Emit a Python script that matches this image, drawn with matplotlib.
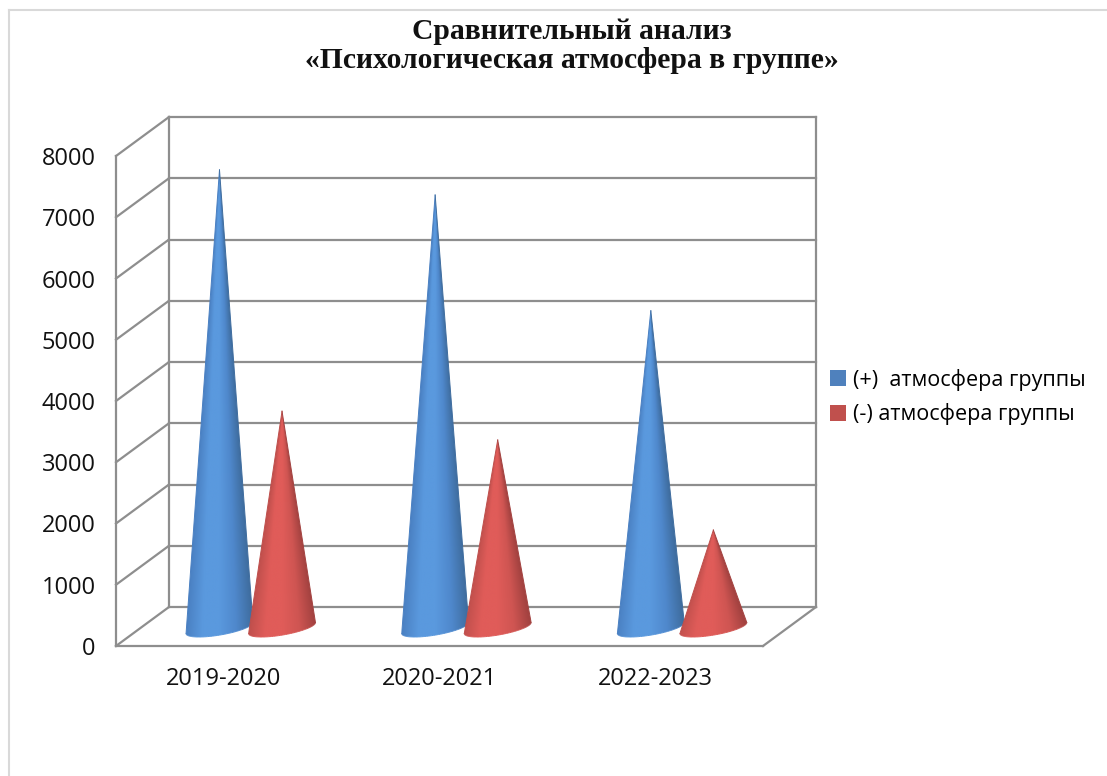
import numpy as np
import matplotlib
matplotlib.use('Agg')
import matplotlib.pyplot as plt
from matplotlib.collections import LineCollection
from matplotlib.colors import LinearSegmentedColormap
from matplotlib.lines import Line2D
from matplotlib.patches import Patch, Polygon

# Данные с графика
periods = ['2019-2020', '2020-2021', '2022-2023']
positive = [7480, 7070, 5180]
negative = [3540, 3070, 1600]
series_names = ['(+)  атмосфера группы', '(-) атмосфера группы']
title = 'Сравнительный анализ\n«Психологическая атмосфера в группе»'

GRID = '#8e8e8e'
depth_x = 53 / 215.7   # глубина 3D-коробки в единицах осей
depth_y = 39 / 0.06125

blue = LinearSegmentedColormap.from_list('b', ['#4a80c2', '#5a99de', '#5a99de', '#4f88cc', '#3f6d9f'])
red = LinearSegmentedColormap.from_list('r', ['#bf4f4c', '#e05c59', '#e05c59', '#cf5552', '#a34240'])


def cone(ax, x, value, cmap, zorder):
    # конус стоит на середине глубины коробки
    cx = x + depth_x / 2
    base = depth_y * 0.46
    a = 0.155
    top = base + value
    t = np.linspace(np.pi, 2 * np.pi, 61)
    px = cx + a * np.cos(t)
    py = base + 115 * np.sin(t) + 90 * np.cos(t)

    # заливка: оттенок зависит от положения внутри конуса на данной высоте
    xs = np.linspace(cx - a, cx + a, 240)
    ys = np.linspace(base - 200, top, 500)
    gx, gy = np.meshgrid(xs, ys)
    half = a * np.clip((top - gy) / value, 1e-3, None)
    u = np.clip((gx - cx) / half * 0.5 + 0.5, 0, 1)
    im = ax.imshow(cmap(u), origin='lower', extent=[xs[0], xs[-1], ys[0], ys[-1]], aspect='auto',
                   interpolation='bilinear', zorder=zorder)
    outline = Polygon(np.column_stack([np.r_[cx, px], np.r_[top, py]]), closed=True,
                      facecolor='none', edgecolor='none', transform=ax.transData)
    ax.add_patch(outline)
    im.set_clip_path(outline)

    # тонкий контур сглаживает край обрезки
    ax.plot([cx, px[0]], [top, py[0]], color=cmap(0.0), lw=0.7, zorder=zorder + 0.1, clip_on=False)
    ax.plot([cx, px[-1]], [top, py[-1]], color=cmap(1.0), lw=0.7, zorder=zorder + 0.1, clip_on=False)
    segs = [[(px[i], py[i]), (px[i + 1], py[i + 1])] for i in range(60)]
    ax.add_collection(LineCollection(segs, colors=cmap(np.linspace(0, 1, 60)), linewidths=0.7,
                                     zorder=zorder + 0.1, clip_on=False))


fig = plt.figure(figsize=(11.07, 7.76), dpi=100)
fig.add_artist(Line2D([9 / 1107, 9 / 1107], [0, 1 - 10 / 776], color='#d9d9d9', lw=1.5, transform=fig.transFigure))
fig.add_artist(Line2D([9 / 1107, 1], [1 - 10 / 776, 1 - 10 / 776], color='#d9d9d9', lw=1.5, transform=fig.transFigure))
ax = fig.add_axes([116 / 1107, 130 / 776, 647 / 1107, 490 / 776])

xmin, xmax = -0.5, 2.5
levels = np.arange(0, 8001, 1000)

# задняя стенка и левая стенка
for v in levels:
    ax.plot([xmin + depth_x, xmax + depth_x], [v + depth_y, v + depth_y], color=GRID, lw=1.6, clip_on=False, zorder=1)
    ax.plot([xmin, xmin + depth_x], [v, v + depth_y], color=GRID, lw=1.6, clip_on=False, zorder=1)
ax.plot([xmin, xmin], [0, 8000], color=GRID, lw=1.6, clip_on=False, zorder=1)
ax.plot([xmin + depth_x, xmin + depth_x], [depth_y, 8000 + depth_y], color=GRID, lw=1.6, clip_on=False, zorder=1)
ax.plot([xmax + depth_x, xmax + depth_x], [depth_y, 8000 + depth_y], color=GRID, lw=1.6, clip_on=False, zorder=1)
# пол
ax.plot([xmin, xmax], [0, 0], color=GRID, lw=1.6, clip_on=False, zorder=1)
ax.plot([xmax, xmax + depth_x], [0, depth_y], color=GRID, lw=1.6, clip_on=False, zorder=1)

for i in range(len(periods)):
    cone(ax, i - 0.143, positive[i], blue, 3)
    cone(ax, i + 0.147, negative[i], red, 4)

ax.set_xlim(xmin, xmax)
ax.set_ylim(0, 8000)
ax.set_xticks(range(len(periods)), periods)
ax.set_yticks(levels)
ax.tick_params(length=0, labelsize=17, colors='#111111')
ax.tick_params(axis='x', pad=15)
ax.tick_params(axis='y', pad=14.5)
for lab in ax.get_xticklabels() + ax.get_yticklabels():
    lab.set_family('Open Sans')
ax.patch.set_visible(False)
for s in ax.spines.values():
    s.set_visible(False)

fig.text(571.5 / 1107, 1 - 46 / 776, title, ha='center', va='center', family='Liberation Serif',
         fontweight='bold', fontsize=21.3, linespacing=1.07, color='#111111')

handles = [Patch(facecolor='#4f81bd', label=series_names[0]), Patch(facecolor='#c0504d', label=series_names[1])]
fig.legend(handles=handles, loc='center left', bbox_to_anchor=(830 / 1107, 1 - 397 / 776), frameon=False,
           prop={'family': 'Open Sans', 'size': 15.5}, handlelength=0.74, handleheight=0.74,
           handletextpad=0.33, labelspacing=0.6, borderpad=0, borderaxespad=0)

fig.savefig('out.png', dpi=100)
